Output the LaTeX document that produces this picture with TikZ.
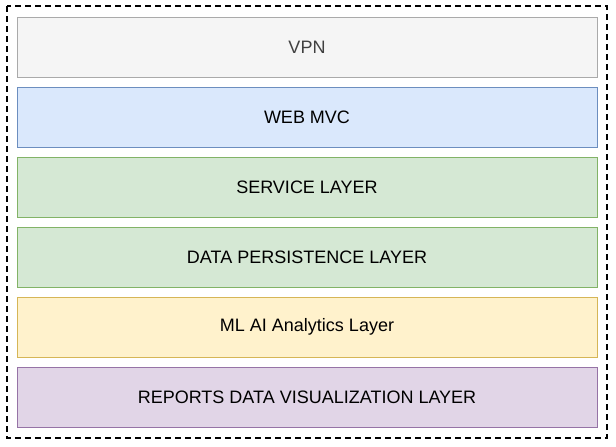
\documentclass[tikz,border=0pt]{standalone}
\usepackage{fontspec}
\setmainfont{Liberation Sans}
\definecolor{grayfill}{HTML}{F5F5F5}
\definecolor{graydraw}{HTML}{AAAAAA}
\definecolor{bluefill}{HTML}{DAE8FC}
\definecolor{bluedraw}{HTML}{6C8EBF}
\definecolor{greenfill}{HTML}{D5E8D4}
\definecolor{greendraw}{HTML}{82B366}
\definecolor{yellowfill}{HTML}{FFF2CC}
\definecolor{yellowdraw}{HTML}{D6B656}
\definecolor{purplefill}{HTML}{E1D5E7}
\definecolor{purpledraw}{HTML}{9673A6}
\begin{document}
\begin{tikzpicture}[x=1pt,y=-1pt,
                       layer/.style={rectangle,draw,line width=1pt,minimum width=580pt,minimum height=60pt,inner sep=0pt,font=\fontsize{18}{21}\selectfont}
                      ]
  \useasboundingbox (0,0) rectangle (616,447);
  \node[layer,fill=grayfill,draw=graydraw,text=black!75] (vpn) at (307,47) {VPN};
  \node[layer,fill=bluefill,draw=bluedraw] (web) at (307,117) {WEB MVC};
  \node[layer,fill=greenfill,draw=greendraw] (service) at (307,187) {SERVICE LAYER};
  \node[layer,fill=greenfill,draw=greendraw] (data) at (307,257) {DATA PERSISTENCE LAYER};
  \node[layer,fill=yellowfill,draw=yellowdraw] (ml) at (307,327) {ML AI Analytics Layer};
  \node[layer,fill=purplefill,draw=purpledraw] (reports) at (307,397) {REPORTS DATA VISUALIZATION LAYER};

  \draw[line width=2pt,dash pattern=on 6pt off 4pt] (7,6) rectangle (607,438);
 \end{tikzpicture}
\end{document}
